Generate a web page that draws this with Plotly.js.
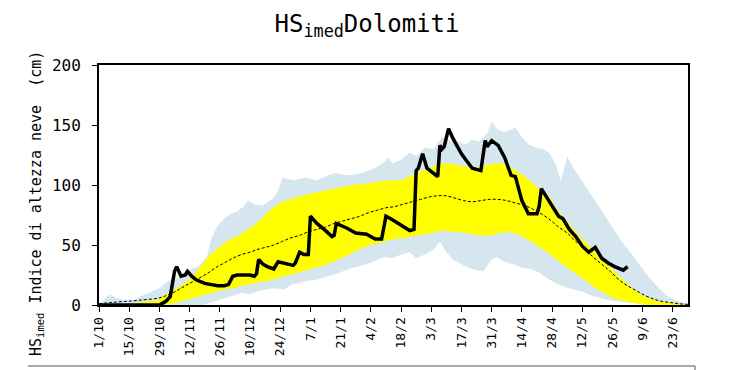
<!DOCTYPE html>
<html>
<head>
<meta charset="utf-8">
<script src="https://cdn.plot.ly/plotly-3.0.1.min.js"></script>
<style>
html,body{margin:0;padding:0;background:#fff;}
#chart{width:734px;height:370px;}
</style>
</head>
<body>
<div id="chart"></div>
<script>
// Giorni dal 1 ottobre (stagione 2023/24)
const tickDays = [0,14,28,42,56,70,84,98,112,126,140,154,168,182,196,210,224,238,252,266];
const tickLabels = ["1/10","15/10","29/10","12/11","26/11","10/12","24/12","7/1","21/1","4/2","18/2","3/3","17/3","31/3","14/4","28/4","12/5","26/5","9/6","23/6"];

// Massimo storico (banda azzurra, bordo superiore)
const maxDay = [0,2,5,8,12,16,20,24,28,32,37,41,46,50,52,55,58,61,64,67,69,72,76,80,83,85,90,96,101,106,110,116,122,128,132,134,136,140,144,147,151,155,159,162,166,170,173,176,180,182,185,188,193,196,199,203,206,209,212,214,216,217,220,224,228,232,236,240,243,247,251,255,259,263,267,271,273];
const maxVal = [0,4,9,6,4,4,8,11,14,20,23,29,32,40,55,66,72,76,78,82,87,84,83,88,95,106,104,106,104,108,110,108,110,114,119,123,118,121,127,124,131,130,140,137,136,134,138,136,143,153,146,144,148,140,134,131,130,126,116,103,118,124,114,103,93,82,70,60,51,42,32,23,15,8,4,2,1];

// Minimo storico (banda azzurra, bordo inferiore)
const minDay = [0,48,52,57,62,66,70,75,81,86,89,96,101,104,110,116,120,126,132,136,140,144,147,151,155,158,161,164,167,171,175,178,182,184,188,192,196,200,204,208,212,216,220,224,228,232,236,240,245,250,255,273];
const minVal = [0,0,2,5,8,10,9,12,14,13,17,20,21,23,26,30,32,35,40,39,42,44,39,42,46,53,44,38,35,31,29,28,38,40,36,34,31,30,27,22,18,15,13,11,8,6,4,3,2,1,0,0];

// Percentile alto (banda gialla, bordo superiore)
const pHiDay = [0,12,21,27,32,37,42,45,48,51,54,57,61,65,70,73,78,82,85,90,96,101,106,112,118,124,130,136,140,144,148,153,158,163,167,171,175,179,183,187,190,194,198,202,206,209,212,216,220,224,228,232,236,240,244,248,252,256,260,265,270,273];
const pHiVal = [0,0,3,4,10,15,21,28,35,41,46,50,55,58,64,68,77,83,86,89,92,94,96,98,100,101,103,104,104,107,111,114,118,118,116,115,115,116,118,118,116,111,106,100,94,90,80,72,63,55,48,40,33,26,19,13,8,5,3,2,1,0];

// Percentile basso (banda gialla, bordo inferiore)
const pLoDay = [0,30,34,38,42,46,50,54,58,62,66,72,78,84,88,93,98,104,110,116,120,126,132,137,142,148,154,159,164,170,176,181,186,190,194,198,202,206,210,214,218,222,226,230,234,238,242,246,250,255,273];
const pLoVal = [0,0,1,3,5,7,9,11,13,14,16,18,20,23,25,27,30,33,37,42,46,50,53,55,56,58,60,62,61,60,58,58,60,61,59,55,51,46,41,35,30,25,20,14,10,6,4,2,1,0,0];

// Mediana storica (tratteggiata)
const medDay = [0,5,12,19,28,34,38,42,46,50,54,58,62,66,70,73,77,81,85,89,93,97,101,105,109,113,117,121,125,129,133,137,141,145,149,153,157,161,165,169,173,177,181,185,189,193,197,201,205,209,213,217,221,225,229,233,237,241,245,249,253,257,261,265,269,273];
const medVal = [1,2,3,4,6,10,14,18,22,26,31,35,39,42,44,46,48,50,53,56,58,61,63,65,68,70,72,74,77,79,81,82,84,86,88,90,91,91,89,87,86,87,88,88,87,85,83,80,76,71,65,60,53,47,40,34,28,21,16,12,8,5,3,2,1,0.5];

// Stagione corrente (linea nera)
const curDay = [0,28,30,31,33,34,35,36,38,40,41,43,45,49,53,55,58,60,62,64,66,70,72,73,74,76,78,81,83,85,87,90,91,93,95,97,98,101,105,108,109,110,115,119,124,128,131,133,136,141,144,146,147,148,150,152,156,157,158,159,160,162,164,168,170,173,177,179,180,182,185,188,191,193,196,199,203,204,205,207,209,213,215,218,221,224,227,230,233,236,239,242,243,245];
const curVal = [0,0,2,3,7,20,28,32,24,25,28,24,21,18,17,16,16,17,24,25,25,25,24,26,38,34,32,30,36,35,34,33,35,44,42,42,74,68,62,57,58,68,64,60,59,55,55,74,71,65,62,63,112,114,126,114,108,107,133,130,132,147,139,126,121,114,112,137,132,137,133,123,108,107,87,76,76,82,97,91,86,74,72,63,57,49,44,48,39,35,32,30,29,32];

function band(upX, upY, loX, loY){
  return {x: upX.concat(loX.slice().reverse()), y: upY.concat(loY.slice().reverse())};
}
const blueBand = band(maxDay, maxVal, minDay, minVal);
const yellowBand = band(pHiDay, pHiVal, pLoDay, pLoVal);

const mono = "DejaVu Sans Mono, monospace";

const traces = [
  {x: blueBand.x, y: blueBand.y, type:'scatter', mode:'lines', fill:'toself',
   fillcolor:'rgb(213,230,238)', line:{width:0, color:'rgba(0,0,0,0)'}, hoverinfo:'skip'},
  {x: yellowBand.x, y: yellowBand.y, type:'scatter', mode:'lines', fill:'toself',
   fillcolor:'rgb(255,255,0)', line:{width:0, color:'rgba(0,0,0,0)'}, hoverinfo:'skip'},
  {x: medDay, y: medVal, type:'scatter', mode:'lines',
   line:{color:'#000', width:1, dash:'3px,2px', shape:'spline'}},
  {x: curDay, y: curVal, type:'scatter', mode:'lines',
   line:{color:'#000', width:3.5}}
];

const layout = {
  width:734, height:370,
  margin:{l:99, r:46, t:65, b:65},
  paper_bgcolor:'#fff', plot_bgcolor:'#fff',
  showlegend:false,
  font:{family:mono, color:'#000'},
  title:{text:'HS<sub>imed</sub>Dolomiti', font:{family:mono, size:24, color:'#000'},
         x:0.5, xref:'container', xanchor:'center', y:1-24/370, yref:'container', yanchor:'middle'},
  xaxis:{range:[0,273], tickvals:tickDays, ticktext:tickLabels, tickangle:-90,
         showgrid:false, zeroline:false, showline:true, mirror:true, linecolor:'#000', linewidth:2,
         ticks:'outside', ticklen:5, tickwidth:1, tickcolor:'#000',
         tickfont:{family:mono, size:13, color:'#000'}},
  yaxis:{range:[0,200], tickvals:[0,50,100,150,200], showgrid:false, zeroline:false,
         showline:true, mirror:true, linecolor:'#000', linewidth:2,
         ticks:'outside', ticklen:5, tickwidth:1, tickcolor:'#000', ticklabelstandoff:8,
         tickfont:{family:mono, size:16, color:'#000'}},
  annotations:[{text:'HS<sub>imed</sub> Indice di altezza neve&#160;&#160;(cm)', textangle:-90,
    xref:'paper', yref:'paper', x:(36-99)/589, y:(305-204)/240, xanchor:'center', yanchor:'middle',
    showarrow:false, font:{family:mono, size:15, color:'#000'}}],
  shapes:[
    {type:'line', xref:'paper', yref:'paper', x0:(28-99)/589, x1:(695-99)/589, y0:(305-366)/240, y1:(305-366)/240,
     line:{color:'#555', width:1}},
    {type:'line', xref:'paper', yref:'paper', x0:(695-99)/589, x1:(695-99)/589, y0:(305-366)/240, y1:(305-372)/240,
     line:{color:'#555', width:1}}
  ]
};

Plotly.newPlot('chart', traces, layout, {displayModeBar:false, staticPlot:true});
</script>
</body>
</html>
